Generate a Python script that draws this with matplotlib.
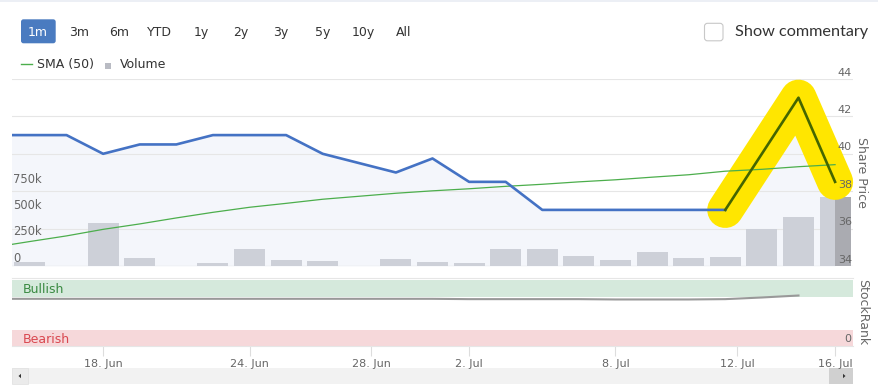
import numpy as np
import matplotlib
matplotlib.use('Agg')
import matplotlib.pyplot as plt
from matplotlib.patches import Rectangle, FancyBboxPatch, Polygon
import matplotlib.transforms as mtransforms

# ---------------- data ----------------
dates = ['13 Jun', '14 Jun', '17 Jun', '18 Jun', '19 Jun', '20 Jun', '21 Jun', '24 Jun',
         '25 Jun', '26 Jun', '27 Jun', '28 Jun', '1 Jul', '2 Jul', '3 Jul', '4 Jul',
         '5 Jul', '8 Jul', '9 Jul', '10 Jul', '11 Jul', '12 Jul', '15 Jul', '16 Jul']
price = [41.0, 41.0, 41.0, 40.0, 40.5, 40.5, 41.0, 41.0, 41.0, 40.0, 39.5, 39.0,
         39.75, 38.5, 38.5, 37.0, 37.0, 37.0, 37.0, 37.0, 37.0, 40.0, 43.0, 38.5]
sma50 = [35.0, 35.31, 35.61, 35.96, 36.25, 36.57, 36.87, 37.14, 37.35, 37.57, 37.73, 37.89,
         38.02, 38.13, 38.26, 38.37, 38.50, 38.61, 38.75, 38.88, 39.07, 39.17, 39.31, 39.42]
volume = [30000, 35000, 0, 409000, 76000, 0, 26000, 159000, 54000, 45000, 0, 67000,
          35000, 26000, 162000, 162000, 98000, 57000, 136000, 79000, 88000, 349000, 463000, 653000]
stockrank = [71.5, 71.5, 71.5, 71.5, 71.5, 71.5, 71.5, 71.5, 71.5, 71.5, 71.5, 71.5,
             71.5, 71, 71, 71, 71, 70.5, 70.5, 70.5, 71, 73.5, 76.5, np.nan]
tick_labels = ['18. Jun', '24. Jun', '28. Jun', '2. Jul', '8. Jul', '12. Jul', '16. Jul']
tick_pos = [2, 6, 9.33, 12, 16, 19.33, 22]
price_ticks = [34, 36, 38, 40, 42, 44]
volume_ticks = [0, 250000, 500000, 750000]
volume_tick_labels = ['0', '250k', '500k', '750k']
range_buttons = ['1m', '3m', '6m', 'YTD', '1y', '2y', '3y', '5y', '10y', 'All']
highlight_from = '11 Jul'

x = np.arange(len(dates)) - 1
hi = dates.index(highlight_from)

# ---------------- figure ----------------
W, H = 879, 389
fig = plt.figure(figsize=(W / 100, H / 100), dpi=100)
fig.patch.set_facecolor('white')
plt.rcParams['font.family'] = ['DejaVu Sans']


def fr(x0, y0, x1, y1):
    return [x0 / W, 1 - y1 / H, (x1 - x0) / W, (y1 - y0) / H]


# UI overlay in pixel coordinates
ui = fig.add_axes([0, 0, 1, 1])
ui.set_xlim(0, W)
ui.set_ylim(H, 0)
ui.set_axis_off()

ui.add_patch(Rectangle((0, 0), W, 1.6, fc='#eceff5', ec='none'))

# range selector
btn_cx = [38, 79, 119.3, 159.7, 201, 241, 281, 322.3, 363.3, 404]
for i, (lab, cx) in enumerate(zip(range_buttons, btn_cx)):
    if i == 0:
        ui.add_patch(FancyBboxPatch((21, 19.3), 34.7, 24, boxstyle='round,pad=0,rounding_size=2.5',
                                    fc='#4a7bc0', ec='none'))
        ui.text(cx, 32.3, lab, color='white', fontsize=9, ha='center', va='center')
    else:
        ui.text(cx, 32.3, lab, color='#333333', fontsize=9, ha='center', va='center')

# checkbox
ui.add_patch(FancyBboxPatch((704.5, 23.3), 18.5, 17.5, boxstyle='round,pad=0,rounding_size=3',
                            fc='white', ec='#c8c8c8', lw=0.8))
ui.text(735, 32.3, 'Show commentary', color='#333333', fontsize=11.7, ha='left', va='center',
        family=['Lato', 'DejaVu Sans'])

# legend
ui.plot([20.7, 31.7], [64.3, 64.3], color='#4cae4c', lw=1)
ui.text(37, 64.5, 'SMA (50)', color='#333333', fontsize=9, ha='left', va='center')
ui.add_patch(Rectangle((105, 63), 6, 6, fc='#b9bbc3', ec='none'))
ui.text(120, 64.5, 'Volume', color='#333333', fontsize=9, ha='left', va='center')

# separators
ui.plot([12, 853], [278.3, 278.3], color='#e6e6e6', lw=0.8)

# scrollbar
ui.add_patch(Rectangle((12, 368), 841, 16, fc='#f2f2f2', ec='none'))
ui.add_patch(Rectangle((12, 368), 16, 16, fc='#ebebeb', ec='#e0e0e0', lw=0.5))
ui.add_patch(Rectangle((829, 368), 24, 16, fc='#d0d0d0', ec='none'))
ui.add_patch(Polygon([[18.5, 376], [21, 373.8], [21, 378.2]], closed=True, fc='#333333', ec='none'))
ui.add_patch(Polygon([[845.5, 376], [843, 373.8], [843, 378.2]], closed=True, fc='#333333', ec='none'))

# side titles
ui.text(862, 172.5, 'Share Price', rotation=270, color='#666666', fontsize=9, ha='center', va='center')
ui.text(863, 312, 'StockRank', rotation=270, color='#666666', fontsize=9, ha='center', va='center')

# ---------------- main price / volume panel ----------------
rect = fr(12, 79, 853, 266)
ax_bg = fig.add_axes(rect)
ax_bg.set_xlim(-0.49, 22.49)
ax_bg.set_ylim(price_ticks[0], price_ticks[-1])
ax_bg.set_axis_off()
ax_bg.fill_between(x, price, price_ticks[0], color='#f4f6fb', lw=0, zorder=1)
for t in price_ticks[1:]:
    ax_bg.axhline(t, color='#e6e6e6', lw=0.8, zorder=2)
ax_bg.axhline(price_ticks[0], color='#dadada', lw=0.9, zorder=2)

ax_v = fig.add_axes(rect, sharex=ax_bg)
ax_v.set_axis_off()
ax_v.set_ylim(0, 1.78e6)
ax_v.bar(x, volume, width=0.85, color='#cdd0d8', edgecolor='none', zorder=1)
ax_v.bar(x[-1], volume[-1], width=0.425, align='edge', color='#aaabb1', edgecolor='none', zorder=2)
tv = mtransforms.offset_copy(mtransforms.blended_transform_factory(ax_v.transAxes, ax_v.transData),
                             fig=fig, x=1, y=8, units='dots')
for v, lab in zip(volume_ticks, volume_tick_labels):
    ax_v.text(0, v, lab, transform=tv, color='#666666', fontsize=8.3, ha='left', va='center')

ax_p = fig.add_axes(rect, sharex=ax_bg)
ax_p.set_axis_off()
ax_p.set_ylim(price_ticks[0], price_ticks[-1])
ax_p.plot(x[hi:], price[hi:], color='#ffe600', lw=26, solid_capstyle='round',
          solid_joinstyle='round', zorder=1, clip_on=False)
ax_p.plot(x, sma50, color='#4cae4c', lw=0.9, zorder=2)
ax_p.plot(x[:hi + 1], price[:hi + 1], color='#4472c4', lw=1.9, zorder=3,
          solid_joinstyle='round')
ax_p.plot(x[hi:], price[hi:], color='#446600', lw=1.9, zorder=3, solid_joinstyle='round')
tp = mtransforms.offset_copy(mtransforms.blended_transform_factory(ax_p.transAxes, ax_p.transData),
                             fig=fig, x=-1, y=6.5, units='dots')
for t in price_ticks:
    ax_p.text(1, t, str(t), transform=tp, color='#666666', fontsize=8, ha='right', va='center')

# ---------------- StockRank panel ----------------
ax_r = fig.add_axes(fr(12, 280, 853, 346), sharex=ax_bg)
ax_r.set_ylim(0, 100)
ax_r.set_facecolor('none')
for s in ['top', 'left', 'right']:
    ax_r.spines[s].set_visible(False)
ax_r.spines['bottom'].set_color('#e6e6e6')
ax_r.spines['bottom'].set_linewidth(0.8)
ax_r.set_yticks([])
ax_r.axhspan(75, 100, color='#d5e9dc', lw=0, zorder=0)
ax_r.axhspan(0, 25, color='#f6d8da', lw=0, zorder=0)
ax_r.plot(x, stockrank, color='#999999', lw=1.5, zorder=2)
tb = mtransforms.blended_transform_factory(ax_r.transAxes, ax_r.transData)
ax_r.text(11 / 841, 86, 'Bullish', transform=tb, color='#3a8a42', fontsize=9, ha='left', va='center')
ax_r.text(11 / 841, 10.5, 'Bearish', transform=tb, color='#d9474f', fontsize=9, ha='left', va='center')
ax_r.text(1 - 2 / 841, 10.5, '0', transform=tb, color='#666666', fontsize=8, ha='right', va='center')
ax_r.set_xticks(tick_pos)
ax_r.set_xticklabels(tick_labels)
ax_r.tick_params(axis='x', length=7, width=0.8, color='#dddddd', labelcolor='#666666',
                 labelsize=8, pad=2.5)
ax_r.set_xlim(-0.49, 22.49)

fig.savefig('out.png', dpi=100, facecolor='white')
